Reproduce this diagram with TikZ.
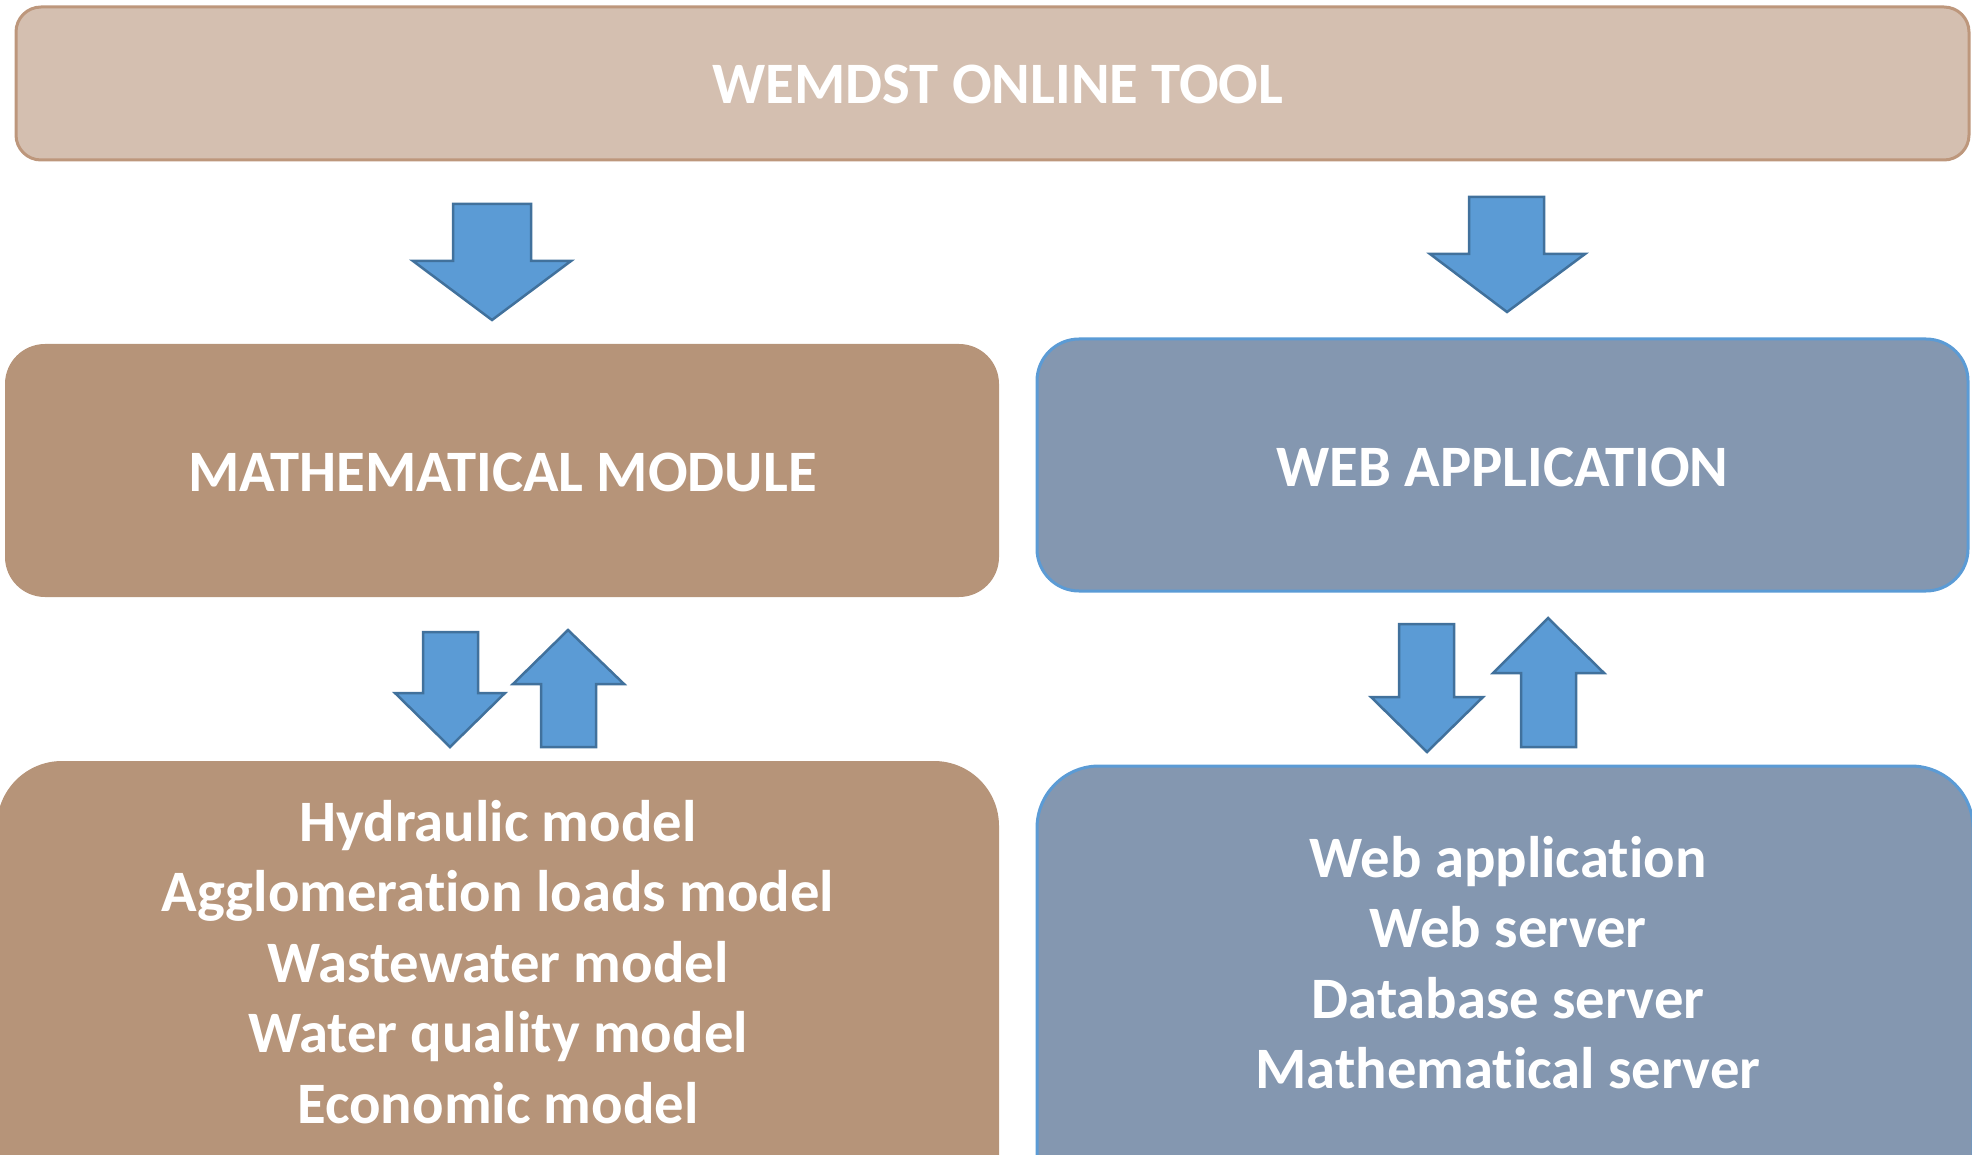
\documentclass[tikz,border=0pt]{standalone}
\usepackage{fontspec}
\setmainfont[Ligatures=NoCommon]{Carlito}
\definecolor{topfill}{HTML}{D4BFB0}
\definecolor{topline}{HTML}{BD977C}
\definecolor{brownfill}{HTML}{B69479}
\definecolor{bluefill}{HTML}{8497B0}
\definecolor{blueline}{HTML}{5B9BD5}
\definecolor{arrowfill}{HTML}{5B9BD5}
\definecolor{arrowline}{HTML}{41719C}
\begin{document}
\begin{tikzpicture}[x=1pt,y=-1pt,
  box/.style={rectangle,inner sep=0pt,outer sep=0pt},
  toptext/.style={text=white,font=\bfseries\fontsize{58.7}{66}\selectfont},
  headtext/.style={text=white,font=\bfseries\fontsize{58.7}{66}\selectfont},
  listtext/.style={text=white,align=center,font=\bfseries\fontsize{58.7}{70.4}\selectfont},
  blockarrow/.style={fill=arrowfill,draw=arrowline,line width=2.5pt,line join=miter}]
\useasboundingbox (0,0) rectangle (1972,1155);
\clip (0,0) rectangle (1972,1155);
% top box
\node[box,fill=topfill,draw=topline,line width=3pt,rounded corners=25pt,minimum width=1953pt,minimum height=153pt] (top) at (992.5,83.5) {};
\node[toptext] (toptxt) at (998,84) {WEMDST ONLINE TOOL};
% middle boxes
\node[box,fill=brownfill,rounded corners=40pt,minimum width=994pt,minimum height=253pt] (math) at (502,470.5) {};
\node[headtext] (mathtxt) at (502.5,472) {MATHEMATICAL MODULE};
\node[box,fill=bluefill,draw=blueline,line width=3pt,rounded corners=42pt,minimum width=931pt,minimum height=252pt] (web) at (1502.5,465) {};
\node[headtext] (webtxt) at (1502.5,467) {WEB APPLICATION};
% bottom boxes
\node[box,fill=brownfill,rounded corners=65pt,minimum width=1002pt,minimum height=470pt] (models) at (498,996) {};
\node[listtext] (modelstxt) at (498,962) {Hydraulic model\\Agglomeration loads model\\Wastewater model\\Water quality model\\Economic model};
\node[box,fill=bluefill,draw=blueline,line width=3pt,rounded corners=62pt,minimum width=936pt,minimum height=470pt] (servers) at (1505,1001) {};
\node[listtext] (serverstxt) at (1508,962.5) {Web application\\Web server\\Database server\\Mathematical server};
% arrows top
\draw[blockarrow] (453,204) -- (531,204) -- (531,261) -- (571,261) -- (492,320) -- (413,261) -- (453,261) -- cycle;
\draw[blockarrow] (1469,197) -- (1544,197) -- (1544,254) -- (1585,254) -- (1507,312) -- (1430,254) -- (1469,254) -- cycle;
% arrows left middle
\draw[blockarrow] (423,632) -- (478,632) -- (478,693) -- (505,693) -- (450,747) -- (395,693) -- (423,693) -- cycle;
\draw[blockarrow] (541,747) -- (596,747) -- (596,684) -- (624,684) -- (568,630) -- (513,684) -- (541,684) -- cycle;
% arrows right middle
\draw[blockarrow] (1399,624) -- (1454,624) -- (1454,697) -- (1483,697) -- (1427,752) -- (1371,697) -- (1399,697) -- cycle;
\draw[blockarrow] (1521,747) -- (1576,747) -- (1576,673) -- (1604,673) -- (1548,618) -- (1493,673) -- (1521,673) -- cycle;
\end{tikzpicture}
\end{document}
